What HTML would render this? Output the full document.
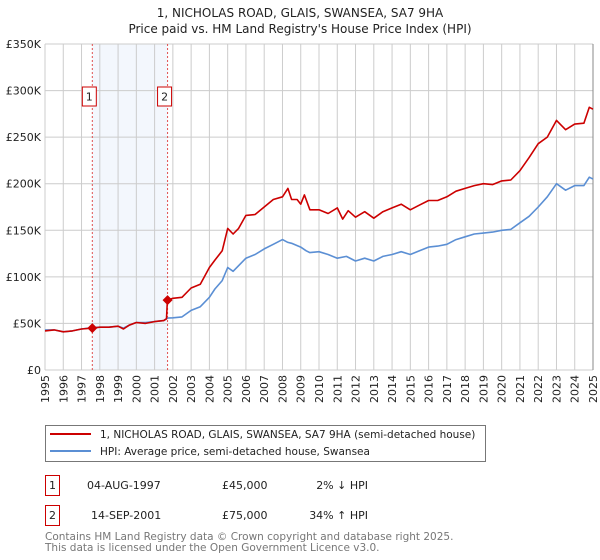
<!DOCTYPE html>
<html><head><meta charset="utf-8"><style>
body{margin:0;background:#fff;}
svg{display:block;font-family:"DejaVu Sans","Liberation Sans",sans-serif;}
</style></head><body>
<svg id="chart" width="600" height="560" viewBox="0 0 600 560">
<text x="300" y="17" text-anchor="middle" font-size="12" fill="#222">1, NICHOLAS ROAD, GLAIS, SWANSEA, SA7 9HA</text>
<text x="300" y="33" text-anchor="middle" font-size="12" fill="#222">Price paid vs. HM Land Registry's House Price Index (HPI)</text>
<g id="plot"></g>
<g>
<rect x="45.5" y="425.5" width="440" height="36" fill="#fff" stroke="#777"/>
<line x1="50" y1="434" x2="91" y2="434" stroke="#cc0000" stroke-width="2"/>
<text x="100" y="438" font-size="10.5" fill="#222">1, NICHOLAS ROAD, GLAIS, SWANSEA, SA7 9HA (semi-detached house)</text>
<line x1="50" y1="451" x2="91" y2="451" stroke="#5b8fd4" stroke-width="2"/>
<text x="100" y="455" font-size="10.5" fill="#222">HPI: Average price, semi-detached house, Swansea</text>
</g>
<g font-size="11" fill="#222">
<rect x="45.5" y="475.5" width="14" height="20" fill="#fff" stroke="#cc0000"/>
<text x="52.5" y="489" text-anchor="middle">1</text>
<text x="87" y="489">04-AUG-1997</text>
<text x="222" y="489">£45,000</text>
<text x="368" y="489" text-anchor="end">2% ↓ HPI</text>
<rect x="45.5" y="505.5" width="14" height="20" fill="#fff" stroke="#cc0000"/>
<text x="52.5" y="519" text-anchor="middle">2</text>
<text x="91" y="519">14-SEP-2001</text>
<text x="222" y="519">£75,000</text>
<text x="368" y="519" text-anchor="end">34% ↑ HPI</text>
</g>
<text x="45" y="540" font-size="10.5" fill="#777">Contains HM Land Registry data © Crown copyright and database right 2025.</text>
<text x="45" y="551" font-size="10.5" fill="#777">This data is licensed under the Open Government Licence v3.0.</text>
</svg>
<script>
const yTicks=[0,50,100,150,200,250,300,350];
const yTickLabels=["£0","£50K","£100K","£150K","£200K","£250K","£300K","£350K"];
const xYears=[1995,1996,1997,1998,1999,2000,2001,2002,2003,2004,2005,2006,2007,2008,2009,2010,2011,2012,2013,2014,2015,2016,2017,2018,2019,2020,2021,2022,2023,2024,2025];
const hpiT=[1995,1995.5,1996,1996.5,1997,1997.6,1998,1998.5,1999,1999.3,1999.6,2000,2000.5,2001,2001.5,2001.7,2002,2002.5,2003,2003.5,2004,2004.3,2004.7,2005,2005.3,2005.6,2006,2006.5,2007,2007.5,2008,2008.3,2008.5,2009,2009.3,2009.5,2010,2010.5,2011,2011.5,2012,2012.5,2013,2013.5,2014,2014.5,2015,2015.5,2016,2016.5,2017,2017.5,2018,2018.5,2019,2019.5,2020,2020.5,2021,2021.5,2022,2022.5,2023,2023.5,2024,2024.5,2024.8,2025];
const hpiV=[43,43,41,42,44,45.5,46,46,47,45,48,51,51,52,53,55.7,56,57,64,68,78,87,96,110,106,112,120,124,130,135,140,137,136,132,128,126,127,124,120,122,117,120,117,122,124,127,124,128,132,133,135,140,143,146,147,148,150,151,158,165,175,186,200,193,198,198,207,205];
const priceT=[1995,1995.5,1996,1996.5,1997,1997.6,1998,1998.5,1999,1999.3,1999.6,2000,2000.5,2001,2001.5,2001.65,2001.7,2002,2002.5,2003,2003.5,2004,2004.3,2004.7,2005,2005.3,2005.6,2006,2006.5,2007,2007.5,2008,2008.3,2008.5,2008.8,2009,2009.2,2009.5,2010,2010.5,2011,2011.3,2011.6,2012,2012.5,2013,2013.5,2014,2014.5,2015,2015.5,2016,2016.5,2017,2017.5,2018,2018.5,2019,2019.5,2020,2020.5,2021,2021.5,2022,2022.5,2023,2023.5,2024,2024.5,2024.8,2025];
const priceV=[42,43,41,42,44,45,46,46,47,44,48,51,50,52,53,55,75,77,78,88,92,110,118,128,152,146,152,166,167,175,183,186,195,183,183,178,188,172,172,168,174,162,171,164,170,163,170,174,178,172,177,182,182,186,192,195,198,200,199,203,204,214,228,243,250,268,258,264,265,282,280];
const saleT=[1997.59,2001.71];
const saleV=[45,75];
const saleLabels=["1","2"];

const L=45,R=593,T=44,B=370;
const xs=t=>L+(t-1995)/(2025-1995)*(R-L);
const ys=v=>B-v/350*(B-T);
const NS="http://www.w3.org/2000/svg";
const g=document.getElementById('plot');
function mk(tag,at,parent){const e=document.createElementNS(NS,tag);for(const k in at)e.setAttribute(k,at[k]);(parent||g).appendChild(e);return e;}

const shade=mk('rect',{x:xs(saleT[0]),y:T,width:xs(saleT[1])-xs(saleT[0]),height:B-T,fill:'#eef3fc',opacity:0.7});


yTicks.forEach((v,i)=>{
  const l=mk('line',{x1:L,x2:R,y1:ys(v),y2:ys(v),stroke:'#ccc','stroke-width':1});
  
  
  const t=mk('text',{x:L-4,y:ys(v)+4,'text-anchor':'end','font-size':11,fill:'#222'});
  t.textContent=yTickLabels[i];
  
  
});
xYears.forEach(y=>{
  const l=mk('line',{x1:xs(y),x2:xs(y),y1:T,y2:B,stroke:'#ccc','stroke-width':1});
  
  
  const t=mk('text',{x:0,y:0,'text-anchor':'end','font-size':11,fill:'#222',transform:`translate(${xs(y)+4},${B+5}) rotate(-90)`});
  t.textContent=y;
  
  
});
const ax=mk('line',{x1:R,x2:R,y1:T,y2:B,stroke:'#888','stroke-width':1});


saleT.forEach((t,i)=>{
  const l=mk('line',{x1:xs(t),x2:xs(t),y1:T,y2:B,stroke:'#e05050','stroke-width':1,'stroke-dasharray':'2,2'});
  
  
  const r=mk('rect',{x:xs(t)-10,y:87,width:14,height:19,fill:'#fff',stroke:'#cc0000'});
  
  
  const tx=mk('text',{x:xs(t)-3,y:100.5,'text-anchor':'middle','font-size':11,fill:'#222'});
  tx.textContent=saleLabels[i];
  
  
});
function line(T_,V,color,name){
  const p=mk('path',{d:T_.map((t,i)=>(i?'L':'M')+xs(t).toFixed(1)+','+ys(V[i]).toFixed(1)).join(''),fill:'none',stroke:color,'stroke-width':1.6,'stroke-linejoin':'round'});
  
  
}
line(hpiT,hpiV,'#5b8fd4','hpi-line');
line(priceT,priceV,'#cc0000','price-line');
saleT.forEach((t,i)=>{
  const x=xs(t),y=ys(saleV[i]);
  const d=mk('path',{d:`M${x},${y-5}L${x+5},${y}L${x},${y+5}L${x-5},${y}Z`,fill:'#cc0000'});
  
  
});
</script>
</body></html>
